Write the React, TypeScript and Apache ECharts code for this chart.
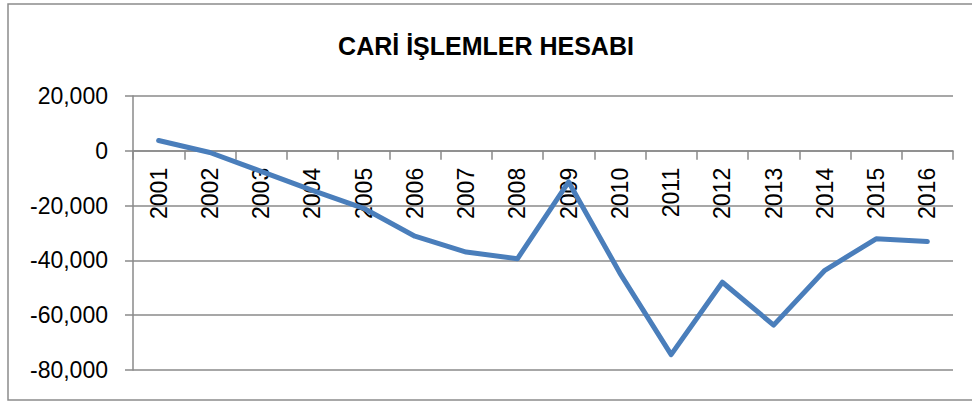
import React, { useEffect, useRef } from "react";
import * as echarts from "echarts";

const titleText = "CARİ İŞLEMLER HESABI";
const years = ["2001","2002","2003","2004","2005","2006","2007","2008","2009","2010","2011","2012","2013","2014","2015","2016"];
const balance = [3760, -626, -7515, -14431, -20980, -31168, -36949, -39425, -11358, -44616, -74402, -47963, -63621, -43597, -32118, -33137];
const yMin = -80000;
const yMax = 20000;
const yStep = 20000;

export default function App() {
  const ref = useRef<HTMLDivElement>(null);
  useEffect(() => {
    document.body.style.margin = "0";
    const chart = echarts.init(ref.current!, null, { renderer: "svg" });
    const grey = "#8a8a8a";
    const font = "'Liberation Sans', Arial, sans-serif";
    chart.setOption({
      animation: false,
      backgroundColor: "#ffffff",
      title: {
        text: titleText,
        left: "center",
        top: 28,
        textStyle: { fontFamily: font, fontSize: 25, fontWeight: "bold", color: "#000" },
      },
      graphic: [
        {
          type: "rect",
          shape: { x: 8, y: 4, width: 980, height: 396 },
          style: { fill: "none", stroke: "#8c8c8c", lineWidth: 1.5 },
          silent: true,
        },
      ],
      grid: { left: 133, right: 19, top: 96, bottom: 31, containLabel: false, outerBoundsMode: "none" },
      xAxis: {
        type: "category",
        data: years,
        boundaryGap: true,
        offset: 0,
        axisLine: { onZero: false, lineStyle: { color: grey, width: 1.5 } },
        axisTick: { show: true, interval: 0, length: 9, lineStyle: { color: grey, width: 1.5 } },
        axisLabel: {
          interval: 0,
          rotate: 90,
          margin: 17,
          fontFamily: font,
          fontSize: 23,
          color: "#000",
        },
        splitLine: { show: false },
      },
      yAxis: {
        type: "value",
        min: yMin,
        max: yMax,
        interval: yStep,
        axisLine: { show: true, lineStyle: { color: grey, width: 1.5 } },
        axisTick: { show: true, length: 8, lineStyle: { color: grey, width: 1.5 } },
        axisLabel: {
          margin: 25,
          fontFamily: font,
          fontSize: 23,
          color: "#000",
          formatter: (v: number) => v.toLocaleString("en-US"),
        },
        splitLine: { show: true, lineStyle: { color: grey, width: 1.5 } },
      },
      series: [
        {
          type: "line",
          data: balance,
          showSymbol: false,
          symbol: "none",
          lineStyle: { color: "#4a7ebb", width: 5, join: "round", cap: "round" },
          z: 3,
        },
      ],
    });
    const yZero = chart.convertToPixel({ yAxisIndex: 0 }, 0) as number;
    const yBottom = chart.convertToPixel({ yAxisIndex: 0 }, yMin) as number;
    chart.setOption({ xAxis: { offset: -(yBottom - yZero) } });
    return () => chart.dispose();
  }, []);
  return (
    <div
      ref={ref}
      style={{ position: "absolute", left: 0, top: 0, width: 972, height: 401 }}
    />
  );
}
